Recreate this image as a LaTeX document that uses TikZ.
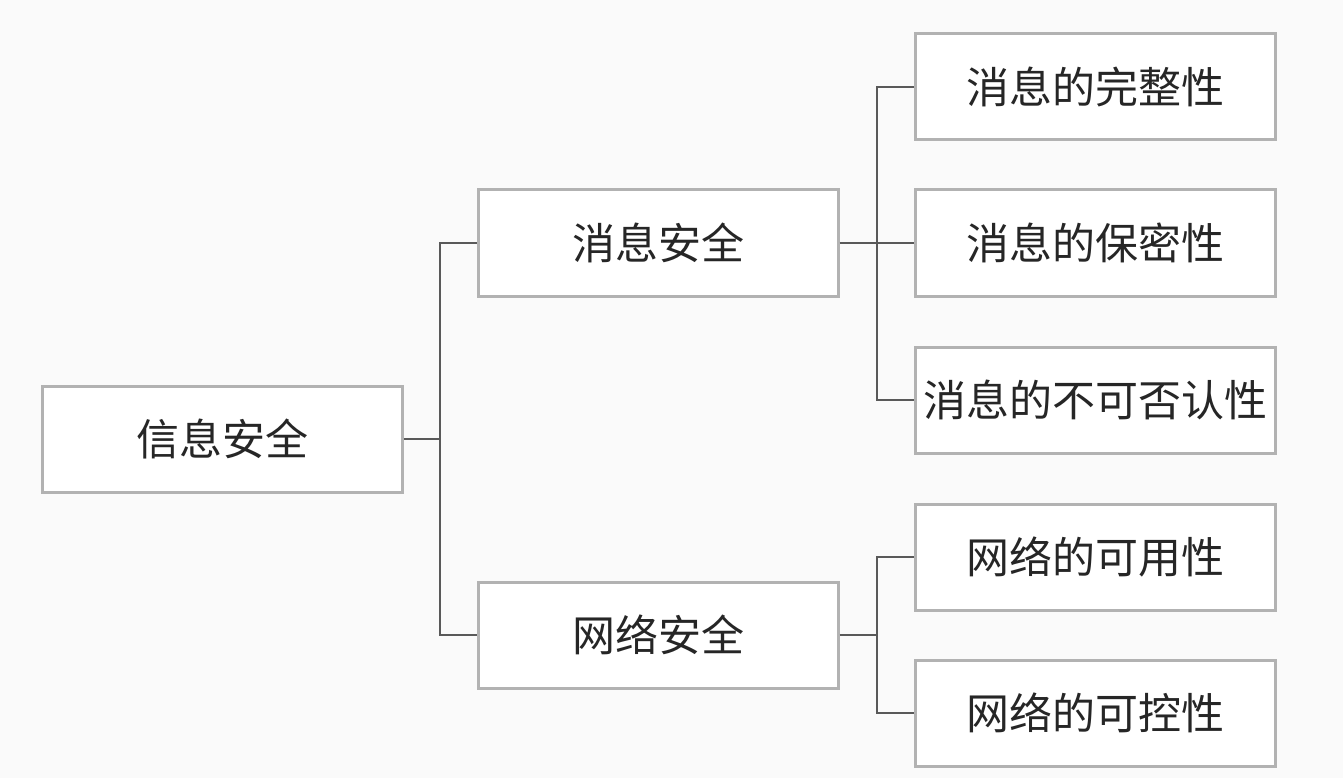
\documentclass[tikz,border=0pt]{standalone}
\usepackage{fontspec}
\newfontfamily\cjk{Noto Sans CJK SC}
\begin{document}
\begin{tikzpicture}[x=1pt,y=-1pt,
  box/.style={draw=gray!60,line width=3pt,fill=white,minimum width=360pt,minimum height=106pt,inner sep=0pt,font=\cjk\fontsize{43}{46}\selectfont,text=black!85},
  conn/.style={draw=gray!70!black,line width=2pt}]
\useasboundingbox[fill=gray!4] (0,0) rectangle (1343,778);
\node[box] (root) at (222,439) {信息安全};
\node[box] (msg) at (658,243) {消息安全};
\node[box] (net) at (658,635) {网络安全};
\node[box] (m1) at (1095,87) {消息的完整性};
\node[box] (m2) at (1095,243) {消息的保密性};
\node[box] (m3) at (1095,400) {消息的不可否认性};
\node[box] (n1) at (1095,557) {网络的可用性};
\node[box] (n2) at (1095,713) {网络的可控性};
\coordinate (j1) at (440,439);
\coordinate (j2) at (877,243);
\coordinate (j3) at (877,635);
\draw[conn] (root.east) -- (j1);
\draw[conn] (msg.west) -| (j1) |- (net.west);
\draw[conn] (msg.east) -- (j2);
\draw[conn] (m1.west) -| (j2) |- (m3.west);
\draw[conn] (j2) -- (m2.west);
\draw[conn] (net.east) -- (j3);
\draw[conn] (n1.west) -| (j3) |- (n2.west);
\end{tikzpicture}
\end{document}
